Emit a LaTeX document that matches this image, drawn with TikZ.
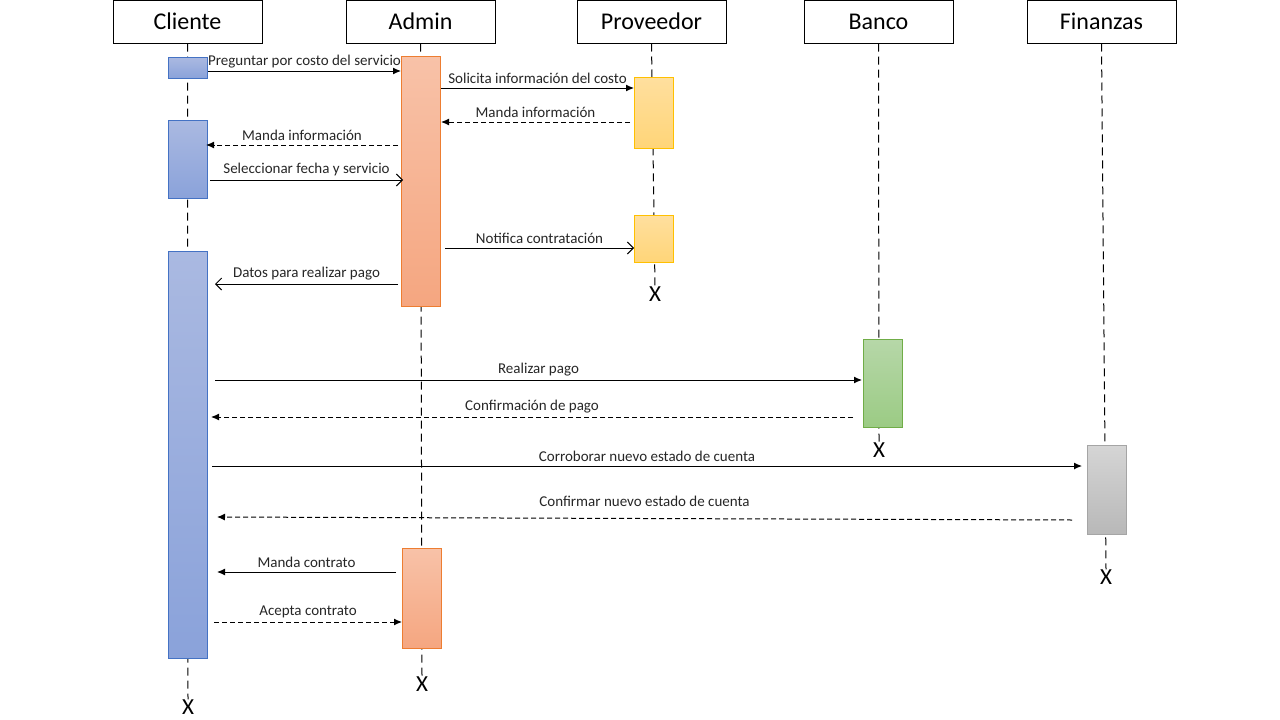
\documentclass[tikz,border=0pt]{standalone}
\usepackage{fontspec}
\setmainfont{Carlito}
\usepackage{xcolor}
\usepackage{tikz}
\usetikzlibrary{arrows.meta,positioning,calc}

\definecolor{bluetop}{HTML}{AAB9E1}
\definecolor{bluebot}{HTML}{8AA2DA}
\definecolor{blueline}{HTML}{4472C4}
\definecolor{orangetop}{HTML}{F8C2A8}
\definecolor{orangebot}{HTML}{F5A680}
\definecolor{orangeline}{HTML}{ED7D31}
\definecolor{yellowtop}{HTML}{FFDF9E}
\definecolor{yellowbot}{HTML}{FFD578}
\definecolor{yellowline}{HTML}{FFC000}
\definecolor{greentop}{HTML}{B6D7A8}
\definecolor{greenbot}{HTML}{9BCB84}
\definecolor{greenline}{HTML}{70AD47}
\definecolor{graytop}{HTML}{D5D5D5}
\definecolor{graybot}{HTML}{B8B8B8}
\definecolor{grayline}{HTML}{A5A5A5}

\tikzset{
	head/.style={draw,line width=1pt,minimum width=149pt,minimum height=43pt,inner sep=0pt,font=\fontsize{24}{28}\selectfont},
	life/.style={line width=1pt,dash pattern=on 8pt off 5pt,black},
	act/.style={draw,line width=1pt,minimum width=39pt,inner sep=0pt,anchor=north west},
	cliact/.style={act,top color=bluetop,bottom color=bluebot,draw=blueline},
	admact/.style={act,top color=orangetop,bottom color=orangebot,draw=orangeline},
	proact/.style={act,top color=yellowtop,bottom color=yellowbot,draw=yellowline},
	banact/.style={act,top color=greentop,bottom color=greenbot,draw=greenline},
	finact/.style={act,top color=graytop,bottom color=graybot,draw=grayline},
	endx/.style={font=\fontsize{23}{26}\selectfont,inner sep=0pt},
	lbl/.style={font=\fontsize{15}{17}\selectfont,inner sep=3.5pt,text=black!85},
	call/.style={line width=1pt,-{Latex[length=8pt,width=7pt]}},
	answer/.style={line width=1pt,dash pattern=on 5pt off 3pt,-{Latex[length=8pt,width=7pt]}},
	open/.style={line width=1pt,-{Straight Barb[length=6pt,width=12pt]}}
}

\begin{document}
\begin{tikzpicture}[x=1pt,y=-1pt]
	\useasboundingbox (0,0) rectangle (1280,720);
	% participantes
	\node[head] (cli) at (187.5,21.5) {Cliente};
	\node[head] (adm) at (420.5,21.5) {Admin};
	\node[head] (pro) at (651.5,21.5) {Proveedor};
	\node[head] (ban) at (878.5,21.5) {Banco};
	\node[head] (fin) at (1101.5,21.5) {Finanzas};
	% fin de vida
	\node[endx] (cliX) at (188,707) {X};
	\node[endx] (admX) at (422,684) {X};
	\node[endx] (proX) at (655,294) {X};
	\node[endx] (banX) at (879,450) {X};
	\node[endx] (finX) at (1106,577) {X};
	% lineas de vida
	\draw[life] (cli.south) -- (cliX.north);
	\draw[life] (adm.south) -- (admX.north);
	\draw[life] (pro.south) -- (proX.north);
	\draw[life] (ban.south) -- (banX.north);
	\draw[life] (fin.south) -- (finX.north);
	% activaciones
	\node[cliact,minimum height=21pt] (cliA) at (168,57) {};
	\node[cliact,minimum height=78pt] (cliB) at (168,120) {};
	\node[cliact,minimum height=407pt] (cliC) at (168,251) {};
	\node[admact,minimum height=250pt] (admA) at (401,56) {};
	\node[admact,minimum height=100pt] (admB) at (402,548) {};
	\node[proact,minimum height=71pt] (proA) at (634,77) {};
	\node[proact,minimum height=47pt] (proB) at (634,215) {};
	\node[banact,minimum height=88pt] (banA) at (863,339) {};
	\node[finact,minimum height=89pt] (finA) at (1087,445) {};
	% mensajes
	\draw[call] (cliA.east |- 0,71) -- (admA.west |- 0,71) node[midway,above=-1pt,lbl] {Preguntar por costo del servicio};
	\draw[call] (admA.east |- 0,88) -- (proA.west |- 0,88) node[midway,above,lbl] {Solicita información del costo};
	\draw[answer] ([xshift=-4pt]proA.west |- 0,122) -- (admA.east |- 0,122) node[midway,above,lbl] {Manda información};
	\draw[answer] ([xshift=-3pt]admA.west |- 0,145) -- ([xshift=-2pt]cliB.east |- 0,145) node[midway,above,lbl] {Manda información};
	\draw[open] ([xshift=2pt]cliB.east |- 0,180) -- ([xshift=2pt]admA.west |- 0,180) node[midway,above,lbl] {Seleccionar fecha y servicio};
	\draw[open] ([xshift=4pt]admA.east |- 0,248) -- (proB.west |- 0,248) node[midway,above,lbl] {Notifica contratación};
	\draw[open] ([xshift=-3pt]admA.west |- 0,284) -- ([xshift=7pt]cliC.east |- 0,284) node[midway,above,lbl] {Datos para realizar pago};
	\draw[call] ([xshift=7pt]cliC.east |- 0,380) -- ([xshift=-1pt]banA.west |- 0,380) node[midway,above,lbl] {Realizar pago};
	\draw[answer] ([xshift=-10pt]banA.west |- 0,417) -- ([xshift=3pt]cliC.east |- 0,417) node[midway,above,lbl] {Confirmación de pago};
	\draw[call] ([xshift=4pt]cliC.east |- 0,466) -- ([xshift=-5pt]finA.west |- 0,466) node[midway,above,lbl] {Corroborar nuevo estado de cuenta};
	\draw[answer] ([xshift=-15pt]finA.west |- 0,520) -- ([xshift=9pt]cliC.east |- 0,517) node[midway,above=8pt,lbl] {Confirmar nuevo estado de cuenta};
	\draw[call] ([xshift=-6pt]admB.west |- 0,572) -- ([xshift=9pt]cliC.east |- 0,572) node[midway,above,lbl] {Manda contrato};
	\draw[answer] ([xshift=6pt]cliC.east |- 0,622) -- (admB.west |- 0,622) node[midway,above,lbl] {Acepta contrato};
\end{tikzpicture}
\end{document}
